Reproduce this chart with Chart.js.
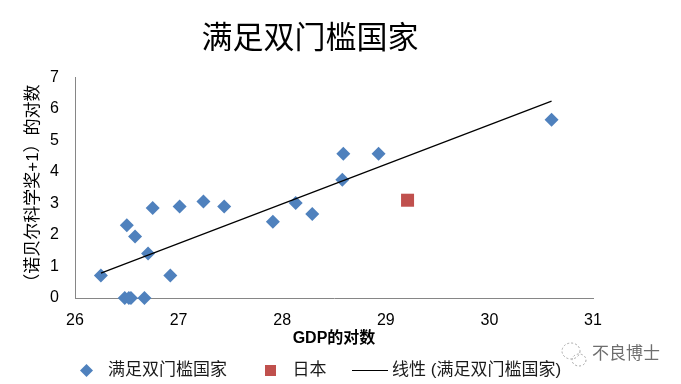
<!DOCTYPE html>
<html><head><meta charset="utf-8">
<script src="https://cdn.jsdelivr.net/npm/chart.js@4"></script>
<style>html,body{margin:0;padding:0;background:#fff}#w{position:relative;width:681px;height:384px}</style>
</head><body><div id="w"><canvas id="c" width="681" height="384"></canvas></div>
<script>
const seriesNames = ['满足双门槛国家','日本','线性 (满足双门槛国家)'];
const chartTitle = '满足双门槛国家';
const xTitle = 'GDP的对数';
const yTitle = '（诺贝尔科学奖+1）的对数';
const watermark = '不良博士';
const gdpLog = [26.25,26.48,26.52,26.54,26.67,26.50,26.58,26.705,26.92,26.75,27.01,27.24,27.44,27.91,28.13,28.29,28.58,28.59,28.93,30.60];
const nobelLog = [0.71,0,0,0,0,2.31,1.95,1.41,0.71,2.85,2.90,3.06,2.90,2.42,3.01,2.66,3.75,4.57,4.57,5.65];
const japanX = [29.21];
const japanY = [3.10];
const trendX = [26.25,30.60];
const trendY = [0.79,6.24];
const zip=(a,b)=>a.map((x,i)=>({x,y:b[i]}));
const BLUE='#4f81bd',RED='#c0504d',AXIS='#868686';
const FONT='"Liberation Sans","Noto Sans CJK SC",sans-serif';
function icon(w,h,draw){const c=document.createElement('canvas');c.width=w;c.height=h;draw(c.getContext('2d'),w,h);return c;}
const icons=[
 icon(13,13,(g)=>{g.fillStyle=BLUE;g.beginPath();g.moveTo(6.5,0);g.lineTo(13,6.5);g.lineTo(6.5,13);g.lineTo(0,6.5);g.fill();}),
 icon(11,11,(g)=>{g.fillStyle=RED;g.fillRect(0,0,11,11);}),
 icon(36,3,(g)=>{g.fillStyle='#000';g.fillRect(0,1,36,1);})
];
const tweak={id:'tweak',
 afterLayout(ch){
  ch.legend.left=42.5; ch.legend.right=681; ch.legend.top+=9; ch.legend.bottom+=9;
  ch.titleBlock.left=0; ch.titleBlock.right=620;
  ch.scales.x.bottom+=26;
 },
 afterDraw(ch){
  const g=ch.ctx;g.save();
  g.fillStyle='#6e6e6e';g.font='17px "Noto Sans CJK SC"';g.textBaseline='middle';
  g.fillText(watermark,592,353);
  g.strokeStyle='#a8a8a8';g.lineWidth=1;g.setLineDash([2,2]);
  g.beginPath();g.ellipse(571,351,9,8,0,0,Math.PI*2);g.stroke();
  g.beginPath();g.ellipse(579,360,7,6,0,0,Math.PI*2);g.stroke();
  g.restore();
 }};
new Chart(document.getElementById('c'),{
 type:'scatter',
 data:{datasets:[
  {label:seriesNames[0],data:zip(gdpLog,nobelLog),pointStyle:'rectRot',pointRadius:7,pointHoverRadius:7,backgroundColor:BLUE,borderColor:BLUE,borderWidth:0,order:2},
  {label:seriesNames[1],data:zip(japanX,japanY),pointStyle:'rect',pointRadius:9.2,pointHoverRadius:9.2,backgroundColor:RED,borderColor:RED,borderWidth:0,order:3},
  {type:'line',label:seriesNames[2],data:zip(trendX,trendY),borderColor:'#000',borderWidth:1.2,pointRadius:0,fill:false,tension:0,order:1}
 ]},
 options:{
  responsive:false,animation:false,clip:false,
  layout:{padding:{top:0,left:23,right:88,bottom:4}},
  plugins:{
   tooltip:{enabled:false},
   title:{display:true,text:chartTitle,color:'#000',font:{family:'"Noto Sans CJK SC"',size:31,weight:'400'},padding:{top:18,bottom:22}},
   legend:{position:'bottom',align:'start',
    labels:{usePointStyle:true,pointStyleWidth:26,padding:31,color:'#1a1a1a',font:{family:FONT,size:17},
     generateLabels:(ch)=>ch.data.datasets.map((d,i)=>({text:d.label,pointStyle:icons[i],datasetIndex:i,hidden:false,fontColor:'#1a1a1a',strokeStyle:'transparent',fillStyle:'transparent',lineWidth:0}))}}
  },
  scales:{
   x:{type:'linear',min:26,max:31,grid:{display:false},border:{color:AXIS,width:1},
      afterBuildTicks:(s)=>{s.ticks=[26,27,28,29,30,31].map(v=>({value:v}));},
      afterFit:(s)=>{s.height=24;},
      ticks:{color:'#000',font:{family:FONT,size:16},padding:5,maxRotation:0,autoSkip:false},
      title:{display:true,text:xTitle,color:'#000',font:{family:FONT,size:16,weight:'bold'},padding:{top:0,bottom:0}}},
   y:{min:0,max:7,grid:{display:false},border:{color:AXIS,width:1},
      afterFit:(s)=>{s.width=52;},
      ticks:{stepSize:1,color:'#000',font:{family:FONT,size:16},padding:8},
      title:{display:true,text:yTitle,color:'#000',font:{family:FONT,size:17},padding:{top:0,bottom:0}}}
  }
 },
 plugins:[tweak]
});
</script></body></html>
